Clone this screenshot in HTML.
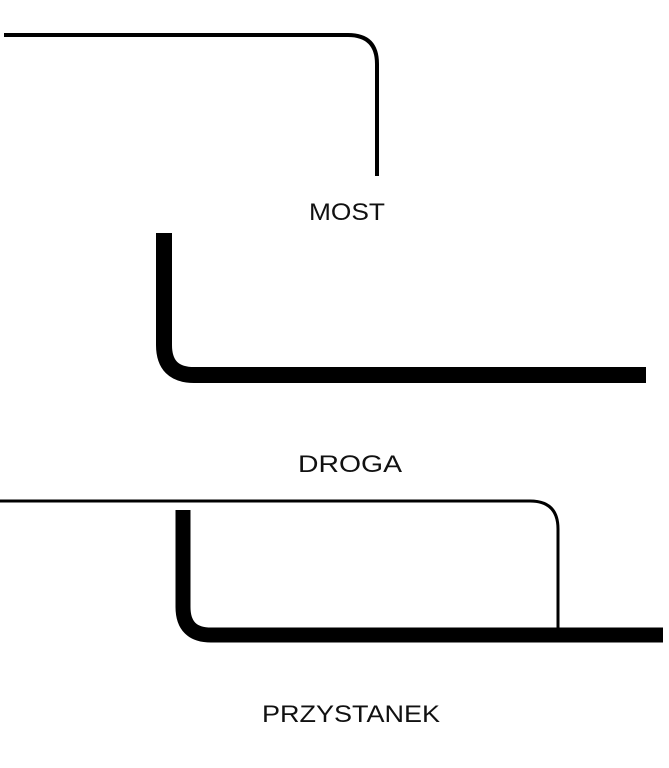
<!DOCTYPE html>
<html><head><meta charset="utf-8"><style>
html,body{margin:0;padding:0;background:#fff;}
svg{display:block;}
text{font-family:"Liberation Sans",sans-serif;font-size:24px;fill:#111;}
</style></head><body>
<svg width="669" height="768" viewBox="0 0 669 768" xmlns="http://www.w3.org/2000/svg">
<path d="M4 35 H348 Q377 35 377 64 V176" fill="none" stroke="#000" stroke-width="4"/>
<text x="309" y="220" textLength="76" lengthAdjust="spacingAndGlyphs">MOST</text>
<path d="M164 233 V345 Q164 375 194 375 H646" fill="none" stroke="#000" stroke-width="16"/>
<text x="298" y="472" textLength="104" lengthAdjust="spacingAndGlyphs">DROGA</text>
<path d="M0 501 H530 Q558 501 558 529 V628" fill="none" stroke="#000" stroke-width="3"/>
<path d="M183 510 V607 Q183 635 211 635 H663" fill="none" stroke="#000" stroke-width="15"/>
<text x="262" y="722" textLength="178" lengthAdjust="spacingAndGlyphs">PRZYSTANEK</text>
</svg>
</body></html>
